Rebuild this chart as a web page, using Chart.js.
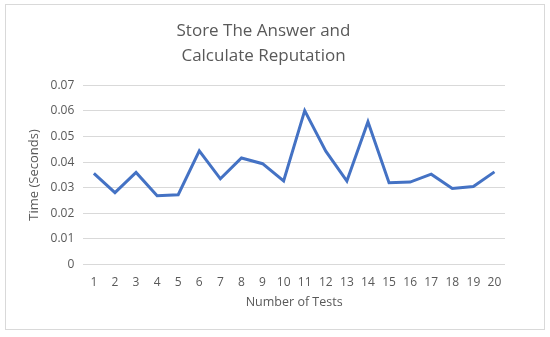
<!DOCTYPE html>
<html>
<head>
<meta charset="utf-8">
<script src="https://cdn.jsdelivr.net/npm/chart.js@4"></script>
<style>
  body { margin: 0; background: #fff; }
  #wrap { position: relative; width: 550px; height: 337px; }
  #frame { position: absolute; left: 5px; top: 4px; width: 538px; height: 324px; border: 1px solid #d9d9d9; }
</style>
</head>
<body>
<div id="wrap">
  <div id="frame"></div>
  <canvas id="timeChart" width="550" height="337"></canvas>
</div>
<script>
const tests = ['1', '2', '3', '4', '5', '6', '7', '8', '9', '10', '11', '12', '13', '14', '15', '16', '17', '18', '19', '20'];
const times = [0.0356, 0.0281, 0.036, 0.0269, 0.0273, 0.0444, 0.0335, 0.0416, 0.0394, 0.0327,
  0.0601, 0.0443, 0.0326, 0.0558, 0.032, 0.0322, 0.0353, 0.0297, 0.0305, 0.0362];
const yTicks = ['0', '0.01', '0.02', '0.03', '0.04', '0.05', '0.06', '0.07'];

const textColor = '#595959';
const font = 'Open Sans';

const chart = document.getElementById('timeChart').getContext('2d');

const timeChart = new Chart(chart, {
  type: 'line',
  data: {
    labels: tests,
    datasets: [{
      label: 'Time',
      data: times,
      borderColor: '#4472C4',
      borderWidth: 3,
      tension: 0,
      fill: false,
      pointRadius: 0
    }]
  },
  options: {
    responsive: false,
    animation: false,
    layout: {
      padding: { left: 22, right: 45, top: 8, bottom: 23 }
    },
    plugins: {
      legend: { display: false },
      tooltip: { enabled: false },
      title: {
        display: true,
        text: ['Store The Answer and', 'Calculate Reputation'],
        color: textColor,
        font: { family: font, size: 17, weight: 'normal', lineHeight: 1.45 },
        padding: { top: 11, bottom: 17 }
      }
    },
    scales: {
      x: {
        offset: true,
        grid: { display: false },
        border: { display: false },
        ticks: { color: textColor, font: { family: font, size: 12 }, maxRotation: 0, autoSkip: false },
        title: {
          display: true,
          text: 'Number of Tests',
          color: textColor,
          font: { family: font, size: 12.5 },
          padding: { top: 2 }
        }
      },
      y: {
        min: 0,
        max: 0.07,
        grid: { color: '#d9d9d9', lineWidth: 1, drawTicks: false },
        border: { display: false },
        ticks: {
          stepSize: 0.01,
          color: textColor,
          font: { family: font, size: 12 },
          padding: 9,
          callback: (v, i) => yTicks[i]
        },
        title: {
          display: true,
          text: 'Time (Seconds)',
          color: textColor,
          font: { family: font, size: 13 },
          padding: { top: 4, bottom: 0 }
        }
      }
    }
  }
});
</script>
</body>
</html>
